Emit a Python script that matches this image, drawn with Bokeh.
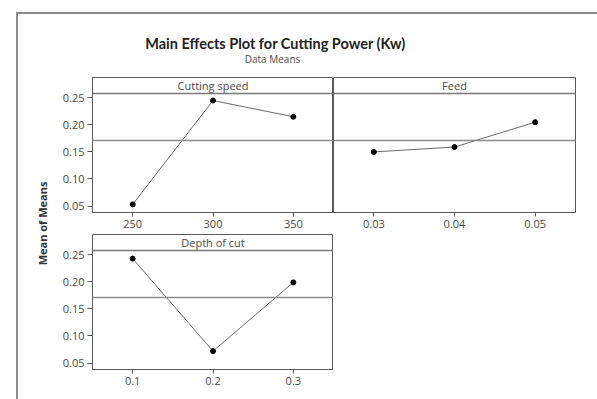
from bokeh.plotting import figure
from bokeh.layouts import row, column
from bokeh.models import Range1d, Span, Label, FixedTicker, NumeralTickFormatter
from bokeh.embed import file_html
from bokeh.resources import INLINE

# Factor levels and the mean response at each level
speed_levels = [250, 300, 350]
speed_means = [0.053, 0.245, 0.215]

feed_levels = [0.03, 0.04, 0.05]
feed_means = [0.150, 0.159, 0.205]

depth_levels = [0.1, 0.2, 0.3]
depth_means = [0.243, 0.072, 0.199]

y_ticks = [0.05, 0.10, 0.15, 0.20, 0.25]

title_text = "Main Effects Plot for Cutting Power (Kw)"
subtitle_text = "Data Means"
y_label_text = "Mean of Means"

all_means = speed_means + feed_means + depth_means
grand_mean = sum(all_means) / len(all_means)

FONT = "Open Sans"
TEXT_COL = "#4a4a4a"
FRAME_COL = "#5a5a5a"

# vertical data range; the strip with the factor name sits above Y_STRIP
Y_LO, Y_STRIP, Y_HI = 0.038, 0.258, 0.2876

FRAME_H = 135


def panel(levels, means, x_lo, x_hi, fmt, name, frame_w, show_y,
          mb_left, mb_right, mb_top, mb_bottom):
    p = figure(width=mb_left + frame_w + mb_right,
               height=mb_top + FRAME_H + mb_bottom,
               x_range=Range1d(x_lo, x_hi), y_range=Range1d(Y_LO, Y_HI),
               output_backend="svg", toolbar_location=None,
               y_axis_location="left" if show_y else None,
               min_border_left=mb_left, min_border_right=mb_right,
               min_border_top=mb_top, min_border_bottom=mb_bottom)
    p.background_fill_color = "white"
    p.border_fill_color = "white"
    p.outline_line_color = FRAME_COL
    p.outline_line_width = 1
    p.xgrid.visible = False
    p.ygrid.visible = False

    xa = p.xaxis[0]
    xa.ticker = FixedTicker(ticks=list(levels))
    xa.formatter = NumeralTickFormatter(format=fmt)
    xa.axis_line_color = FRAME_COL
    xa.major_tick_line_color = FRAME_COL
    xa.major_tick_in = 0
    xa.major_tick_out = 4
    xa.minor_tick_line_color = None
    xa.major_label_standoff = 3
    xa.major_label_text_font = FONT
    xa.major_label_text_font_size = "11px"
    xa.major_label_text_color = TEXT_COL

    if show_y:
        ya = p.yaxis[0]
        ya.ticker = FixedTicker(ticks=y_ticks)
        ya.formatter = NumeralTickFormatter(format="0.00")
        ya.axis_line_color = FRAME_COL
        ya.major_tick_line_color = FRAME_COL
        ya.major_tick_in = 0
        ya.major_tick_out = 5
        ya.minor_tick_line_color = None
        ya.major_label_standoff = 3
        ya.major_label_text_font = FONT
        ya.major_label_text_font_size = "11px"
        ya.major_label_text_color = TEXT_COL

    # header strip
    p.add_layout(Span(location=Y_STRIP, dimension="width",
                      line_color="#7a7a7a", line_width=1.6))
    p.add_layout(Label(x=(x_lo + x_hi) / 2, y=(Y_STRIP + Y_HI) / 2,
                       text=name, text_align="center", text_baseline="middle",
                       text_font=FONT, text_font_size="11px",
                       text_color=TEXT_COL))

    # grand mean reference line
    p.add_layout(Span(location=grand_mean, dimension="width",
                      line_color="#8a8a8a", line_width=1.6))

    p.line(levels, means, line_color="#6a6a6a", line_width=1)
    p.scatter(levels, means, size=5, color="black")
    return p


p_speed = panel(speed_levels, speed_means, 225, 375, "0", "Cutting speed",
                241, True, 34, 0, 1, 21)
p_feed = panel(feed_levels, feed_means, 0.025, 0.055, "0.00", "Feed",
               242, False, 0, 4, 1, 21)
p_depth = panel(depth_levels, depth_means, 0.05, 0.35, "0.0", "Depth of cut",
                241, True, 34, 0, 1, 30)


def blank(w, h):
    f = figure(width=w, height=h, x_range=Range1d(0, w), y_range=Range1d(0, h),
               output_backend="svg", toolbar_location=None,
               x_axis_location=None, y_axis_location=None,
               min_border=0, min_border_left=0, min_border_right=0,
               min_border_top=0, min_border_bottom=0)
    f.outline_line_color = None
    f.xgrid.visible = False
    f.ygrid.visible = False
    f.background_fill_color = "white"
    f.border_fill_color = "white"
    return f


# title block
p_title = blank(579, 62)
p_title.add_layout(Label(x=257, y=33, text=title_text, text_align="center",
                         text_baseline="middle", text_font="Lato",
                         text_font_size="14.5px", text_font_style="bold",
                         text_color="#222222"))
p_title.add_layout(Label(x=254, y=18, text=subtitle_text, text_align="center",
                         text_baseline="middle", text_font=FONT,
                         text_font_size="10px", text_color=TEXT_COL))

# shared y-axis title
p_ylab = blank(40, 323)
p_ylab.add_layout(Label(x=24, y=176, text=y_label_text, angle=1.5708,
                        text_align="center", text_baseline="middle",
                        text_font=FONT, text_font_size="11px",
                        text_font_style="bold", text_color="#333333"))

body = row(p_ylab, column(row(p_speed, p_feed), p_depth))
layout = column(p_title, body,
                styles={"border-left": "2px solid #8c8c8c",
                        "border-top": "2px solid #8c8c8c",
                        "margin-left": "16px", "margin-top": "12px"})

open("out.html", "w").write(file_html(layout, INLINE))
